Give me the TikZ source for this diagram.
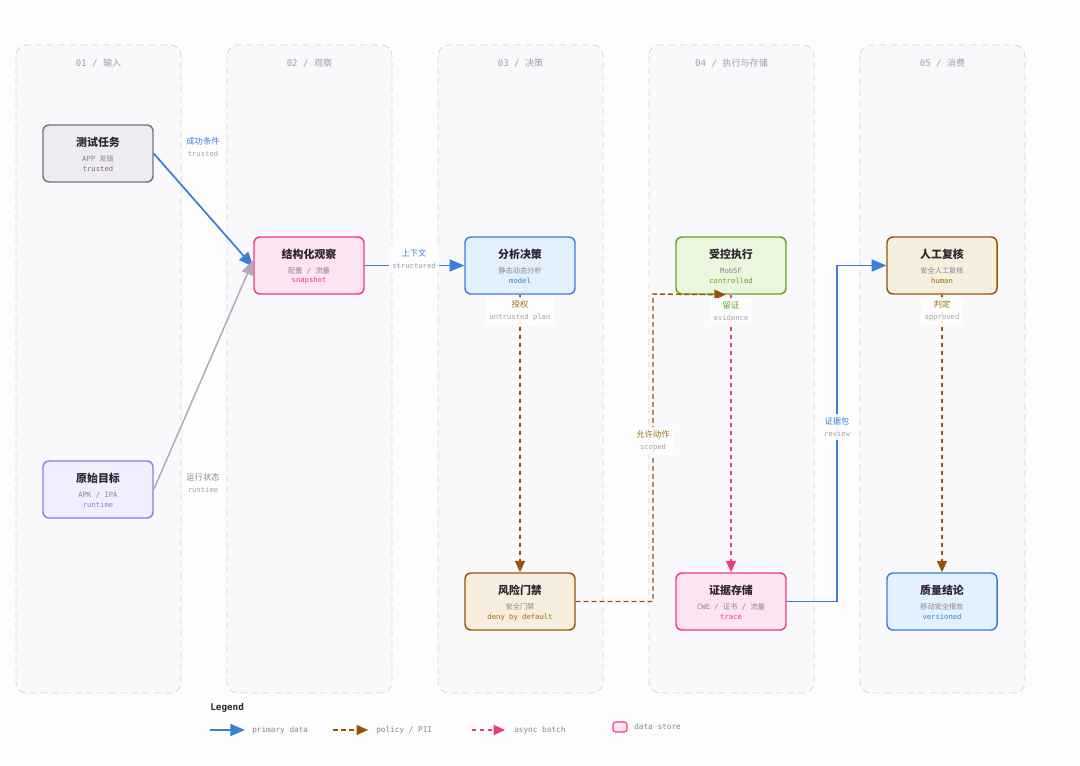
\documentclass[tikz,border=0pt]{standalone}
\usepackage{fontspec}
\setmainfont{Noto Sans CJK SC}
\setmonofont{DejaVu Sans Mono}
\usetikzlibrary{arrows.meta}
\definecolor{bg}{HTML}{FDFDFE}
\definecolor{lanefill}{HTML}{F9F9FC}
\definecolor{laneline}{HTML}{D3D3DA}
\definecolor{lanetext}{HTML}{A39CB2}
\definecolor{cblue}{HTML}{3A7FD5}
\definecolor{cbrown}{HTML}{9A5208}
\definecolor{cpink}{HTML}{EE3B86}
\definecolor{cgreen}{HTML}{62A31C}
\definecolor{cpurple}{HTML}{8C7AE6}
\definecolor{cgray}{HTML}{7B6F7E}
\definecolor{cgold}{HTML}{A06C0A}
\definecolor{subgray}{HTML}{8A8590}
\definecolor{lblgray}{HTML}{A3A3AA}
\definecolor{linegray}{HTML}{B3A8B8}
\definecolor{fgray}{HTML}{EFECF1}
\definecolor{fpurple}{HTML}{F1EFFE}
\definecolor{fpink}{HTML}{FCE4F0}
\definecolor{fblue}{HTML}{E3F0FD}
\definecolor{fgreen}{HTML}{EAF7DE}
\definecolor{fbrown}{HTML}{F6EEDE}
\definecolor{titletext}{HTML}{2A2430}
\tikzset{
  lane/.style={draw=laneline, fill=lanefill, dash pattern=on 5pt off 3.5pt, rounded corners=8pt, line width=0.6pt},
  lanehead/.style={text=lanetext, font=\fontsize{6.8}{8}\selectfont},
  stagebox/.style={rectangle, rounded corners=4.5pt, minimum width=82.5pt, minimum height=42.75pt, inner sep=0pt, line width=1.1pt},
  ttl/.style={font=\fontsize{8.2}{9}\bfseries\selectfont, text=titletext, inner sep=0pt},
  sub/.style={font=\fontsize{5.4}{6}\selectfont, text=subgray, inner sep=0pt},
  tag/.style={font=\fontsize{5.4}{6}\ttfamily\selectfont, inner sep=0pt},
  elabel/.style={fill=white, fill opacity=0.9, text opacity=1, inner sep=2.5pt, align=center, font=\fontsize{6.2}{9}\selectfont},
  primary/.style={draw=cblue, line width=1.3pt, -{Triangle[length=11pt,width=9pt]}},
  policy/.style={draw=cbrown, line width=1.1pt, dash pattern=on 3.5pt off 2.5pt, -{Triangle[length=8.5pt,width=7.5pt]}},
  async/.style={draw=cpink, line width=1.1pt, dash pattern=on 3pt off 3pt, -{Triangle[length=8.5pt,width=7.5pt]}},
  runtimeline/.style={draw=linegray, line width=1.1pt, -{Triangle[length=11pt,width=9pt]}},
  legtext/.style={font=\fontsize{5.8}{7}\ttfamily\selectfont, text=subgray, anchor=west, inner sep=0pt},
}
\newcommand\stagebox[9]{%
  \node[stagebox, draw=#7, fill=#8] (#1) at (#2,#3) {};
  \node[ttl] (#1-t) at (#2,#3-11.5) {#4};
  \node[sub] (#1-s) at (#2,#3+5.5) {#5};
  \node[tag, text=#9] (#1-g) at (#2,#3+15.5) {#6};
}
\newcommand\elab[3]{{\color{#1}#2}\\{\color{lblgray}\ttfamily\fontsize{5.4}{6}\selectfont #3}}
\begin{document}
\begin{tikzpicture}[x=0.75pt,y=-0.75pt]
\useasboundingbox[fill=bg] (0,0) rectangle (1080,766);
% lanes
\foreach \i/\x/\lab in {1/16/{\texttt{01 / }输入},2/227/{\texttt{02 / }观察},3/438/{\texttt{03 / }决策},4/649/{\texttt{04 / }执行与存储},5/860/{\texttt{05 / }消费}}{
  \draw[lane] (\x,45) rectangle (\x+165,693);
  \node[lanehead] (lh\i) at (\x+82.5,63) {\lab};
}
% nodes
\stagebox{task}{98}{153.5}{测试任务}{\texttt{APP }发版}{trusted}{cgray}{fgray}{cgray}
\stagebox{target}{98}{489.5}{原始目标}{\texttt{APK / IPA}}{runtime}{cpurple}{fpurple}{cpurple}
\stagebox{obs}{309}{265.5}{结构化观察}{配置\texttt{ / }流量}{snapshot}{cpink}{fpink}{cpink}
\stagebox{dec}{520}{265.5}{分析决策}{静态动态分析}{model}{cblue}{fblue}{cblue}
\stagebox{exec}{731}{265.5}{受控执行}{\texttt{MobSF}}{controlled}{cgreen}{fgreen}{cgreen}
\stagebox{review}{942}{265.5}{人工复核}{安全人工复核}{human}{cbrown}{fbrown}{cgold}
\stagebox{gate}{520}{601.5}{风险门禁}{安全门禁}{deny by default}{cbrown}{fbrown}{cgold}
\stagebox{store}{731}{601.5}{证据存储}{\texttt{CWE / }证书\texttt{ / }流量}{trace}{cpink}{fpink}{cpink}
\stagebox{result}{942}{601.5}{质量结论}{移动安全报告}{versioned}{cblue}{fblue}{cblue}
% edges
\draw[primary] (task.east) -- ([yshift=-1pt]obs.west);
\draw[runtimeline] (target.east) -- ([yshift=4pt]obs.west);
\draw[primary] (obs.east) -- (dec.west);
\draw[policy] (dec.south) -- (gate.north);
\coordinate (gc1) at (653,601.5);
\coordinate (gc2) at (653,294);
\draw[policy] (gate.east) -- (gc1) -- (gc2) -- ([xshift=-4pt]exec.south);
\draw[async] (exec.south) -- (store.north);
\coordinate (sc1) at (837,601.5);
\coordinate (sc2) at (837,265.5);
\draw[primary] (store.east) -- (sc1) -- (sc2) -- (review.west);
\draw[policy] (review.south) -- (result.north);
% edge labels
\node[elabel] (l1) at (203,147) {\elab{cblue}{成功条件}{trusted}};
\node[elabel] (l2) at (203,483) {\elab{subgray}{运行状态}{runtime}};
\node[elabel] (l3) at (414,259) {\elab{cblue}{上下文}{structured}};
\node[elabel] (l4) at (520,311) {\elab{cgold}{授权}{untrusted plan}};
\node[elabel] (l5) at (653,441) {\elab{cgold}{允许动作}{scoped}};
\node[elabel] (l6) at (731,311) {\elab{cgreen}{留证}{evidence}};
\node[elabel] (l7) at (837,427) {\elab{cblue}{证据包}{review}};
\node[elabel] (l8) at (942,311) {\elab{cgold}{判定}{approved}};
% legend
\node[font=\fontsize{7}{8}\bfseries\ttfamily\selectfont, text=titletext, anchor=west, inner sep=0pt] (legtitle) at (210,708) {Legend};
\coordinate (lg1a) at (210,730); \coordinate (lg1b) at (245,730);
\draw[primary] (lg1a) -- (lg1b);
\node[legtext] (lt1) at (252,730) {primary data};
\coordinate (lg2a) at (333,730); \coordinate (lg2b) at (368,730);
\draw[policy] (lg2a) -- (lg2b);
\node[legtext] (lt2) at (376,730) {policy / PII};
\coordinate (lg3a) at (472,730); \coordinate (lg3b) at (505,730);
\draw[async] (lg3a) -- (lg3b);
\node[legtext] (lt3) at (514,730) {async batch};
\draw[draw=cpink, fill=fpink, rounded corners=2pt, line width=0.8pt] (613,722) rectangle (627,732);
\node[legtext] (lt4) at (634,727) {data store};
\end{tikzpicture}
\end{document}
